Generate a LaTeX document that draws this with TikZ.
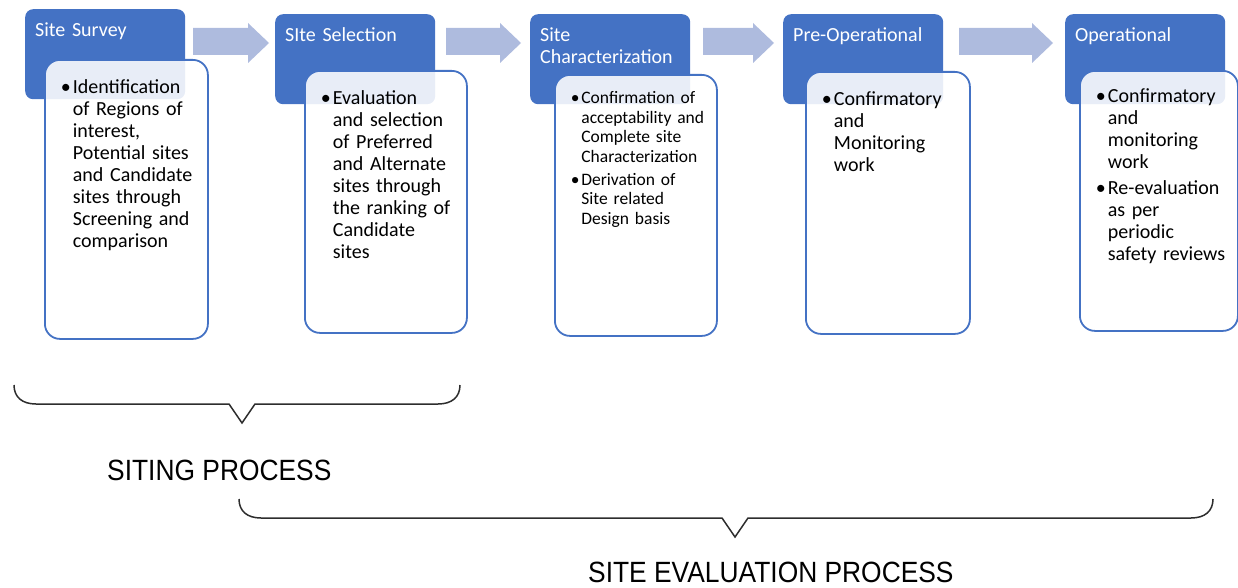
\documentclass[tikz,border=0pt]{standalone}
\usepackage{fontspec}
\setmainfont{Carlito}
\newfontfamily\procfont[FakeStretch=0.9]{Liberation Sans}
\definecolor{stageblue}{RGB}{68,114,196}
\definecolor{arrowblue}{RGB}{174,187,222}
\definecolor{bracegray}{RGB}{45,45,45}

\begin{document}
\begin{tikzpicture}[x=1pt, y=-1pt,
		stagehead/.style={fill=stageblue, rounded corners=8pt, text=white, anchor=north west,
			text width=140pt, inner xsep=10pt, inner ysep=0pt, align=left,
			text height=27pt, text depth=63pt, font=\fontsize{20}{22}\selectfont},
		stagebody/.style={draw=stageblue, line width=1.8pt, fill=white, fill opacity=0.88,
			text opacity=1, rounded corners=15pt, anchor=north west,
			inner xsep=16pt, inner ysep=0pt, align=left, font=\fontsize{20}{22}\selectfont},
		flowarrow/.style={fill=arrowblue},
		brace/.style={draw=bracegray, line width=1.5pt},
		proclabel/.style={anchor=base west, inner sep=0pt, font=\procfont\fontsize{29.3}{32}\selectfont}]
	\useasboundingbox (0,0) rectangle (1238,588);

	% stage headers
	\node[stagehead] (survey) at (25,9) {Site Survey};
	\node[stagehead] (selection) at (275,14) {SIte Selection};
	\node[stagehead] (charact) at (530,14) {Site\\Characterization};
	\node[stagehead] (preop) at (783,14) {Pre-Operational};
	\node[stagehead] (oper) at (1065,14) {Operational};

	% stage bodies
	\node[stagebody, text width=131pt, text height=34pt, text depth=245pt] (surveytxt) at (44,59)
		{\begin{tabular}[t]{@{}p{0.6em}@{}l@{}}
			\textbullet & Identification\\
			& of Regions of\\
			& interest,\\
			& Potential sites\\
			& and Candidate\\
			& sites through\\
			& Screening and\\
			& comparison
		\end{tabular}};
	\node[stagebody, text width=130pt, text height=34pt, text depth=228pt] (selectiontxt) at (304,70)
		{\begin{tabular}[t]{@{}p{0.6em}@{}l@{}}
			\textbullet & Evaluation\\
			& and selection\\
			& of Preferred\\
			& and Alternate\\
			& sites through\\
			& the ranking of\\
			& Candidate\\
			& sites
		\end{tabular}};
	\node[stagebody, text width=130pt, text height=29pt, text depth=232pt,
		font=\fontsize{17.5}{19.5}\selectfont] (characttxt) at (554,74)
		{\begin{tabular}[t]{@{}p{0.6em}@{}l@{}}
			\textbullet & Confirmation of\\
			& acceptability and\\
			& Complete site\\
			& Characterization\\[3.5pt]
			\textbullet & Derivation of\\
			& Site related\\
			& Design basis
		\end{tabular}};
	\node[stagebody, text width=132pt, text height=34pt, text depth=228pt] (preoptxt) at (805,71)
		{\begin{tabular}[t]{@{}p{0.6em}@{}l@{}}
			\textbullet & Confirmatory\\
			& and\\
			& Monitoring\\
			& work
		\end{tabular}};
	\node[stagebody, text width=126pt, text height=32pt, text depth=228pt] (opertxt) at (1079,70)
		{\begin{tabular}[t]{@{}p{0.6em}@{}l@{}}
			\textbullet & Confirmatory\\
			& and\\
			& monitoring\\
			& work\\[4pt]
			\textbullet & Re-evaluation\\
			& as per\\
			& periodic\\
			& safety reviews
		\end{tabular}};

	% arrows between stages
	\foreach \xa/\xb in {193/269, 446/521, 703/774, 959/1053}
		\fill[flowarrow] (\xa,28) -- (\xb-21,28) -- (\xb-21,23) -- (\xb,43)
			-- (\xb-21,63) -- (\xb-21,55) -- (\xa,55) -- cycle;

	% braces
	\draw[brace] (14,385) .. controls (14,397) and (22,404) .. (36,404) -- (229,404)
		-- (242,423) -- (255,404) -- (438,404) .. controls (452,404) and (460,397) .. (460,385);
	\draw[brace] (239,499) .. controls (239,511) and (247,518) .. (261,518) -- (722,518)
		-- (735,537) -- (748,518) -- (1191,518) .. controls (1205,518) and (1213,511) .. (1213,499);

	% process labels
	\node[proclabel] (siting) at (107,480) {SITING PROCESS};
	\node[proclabel] (evaluation) at (588,582) {SITE EVALUATION PROCESS};
\end{tikzpicture}
\end{document}
